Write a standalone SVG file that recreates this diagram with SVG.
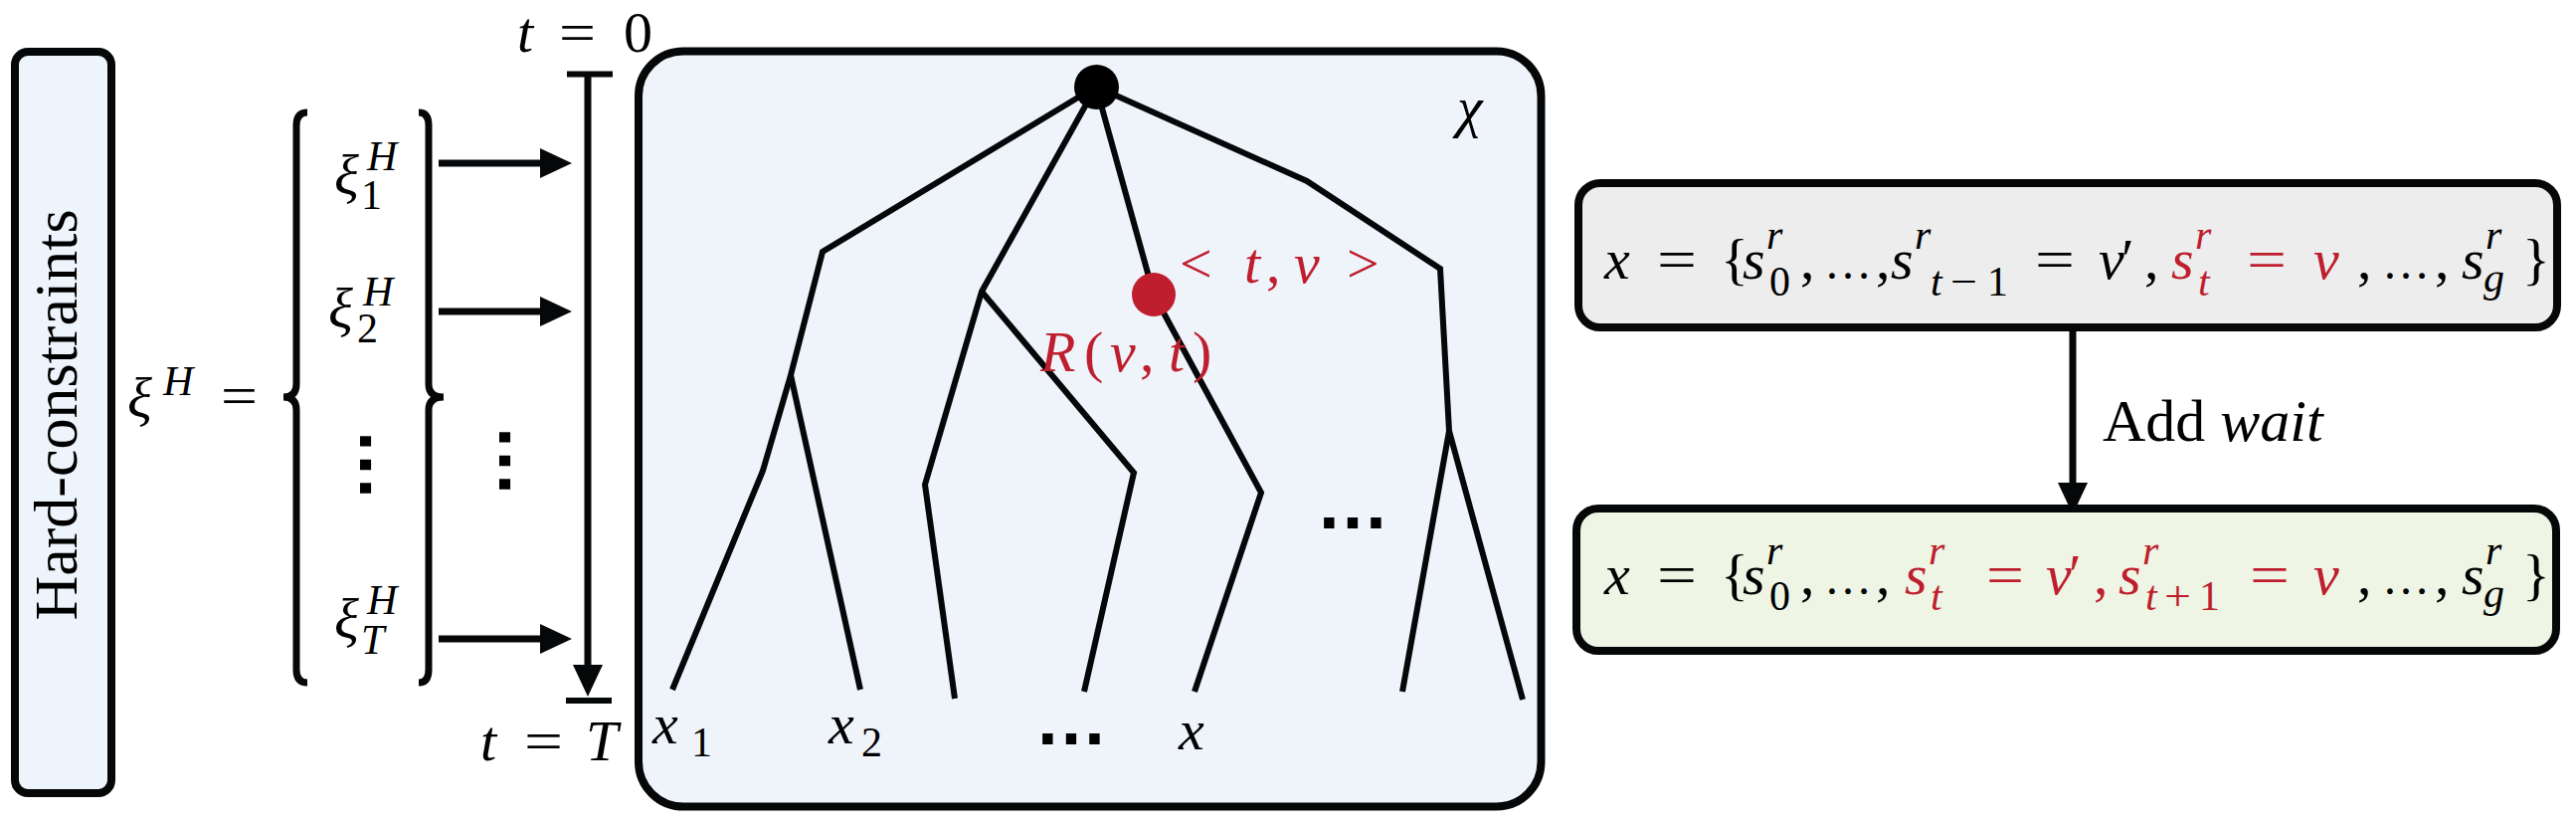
<svg xmlns="http://www.w3.org/2000/svg" width="2590" height="824" viewBox="0 0 2590 824">
<defs>
<style>
.box{stroke:#050708;stroke-width:8;}
.ln{fill:none;stroke:#050708;stroke-width:7;}
.tr{fill:none;stroke:#050708;stroke-width:6;stroke-linejoin:miter;}
.m{font-family:"Liberation Serif","Times New Roman",serif;font-size:58px;fill:#000;}
.s{font-size:42px;}
.i{font-style:italic;}
.red{fill:#BE1E2D;}
.el{font-size:48px;}
.dots{font-family:"Liberation Sans",Arial,sans-serif;font-weight:bold;font-size:74px;fill:#000;}
</style>
<marker id="ah" viewBox="0 0 32 30" refX="4" refY="15" markerWidth="32" markerHeight="30" markerUnits="userSpaceOnUse" orient="auto">
<path d="M0,0 L32,15 L0,30 z" fill="#050708"/>
</marker>
</defs>
<rect width="2590" height="824" fill="#fff"/>

<g id="hard-constraints">
<rect class="box" x="15" y="52" width="97" height="745" rx="13" fill="#EEF4FB"/>
<text class="m" style="font-size:62px" text-anchor="middle" transform="translate(77,417) rotate(-90)">Hard-constraints</text>
</g>

<g id="xi-set">
<text class="m"><tspan class="i" x="128" y="419">ξ</tspan><tspan class="i s" x="164" y="397">H</tspan><tspan x="222" y="417" textLength="37" lengthAdjust="spacingAndGlyphs">=</tspan></text>
<path class="ln" d="M309,113 Q298,113 298,126 L298,386 Q298,399 285,399 Q298,399 298,412 L298,673 Q298,686 309,686"/>
<path class="ln" d="M421,113 Q431,113 431,126 L431,386 Q431,399 446,399 Q431,399 431,412 L431,673 Q431,686 421,686"/>
<text class="m"><tspan class="i" x="336" y="195">ξ</tspan><tspan class="i s" x="369" y="171">H</tspan><tspan class="s" x="363" y="210">1</tspan></text>
<text class="m"><tspan class="i" x="330" y="329">ξ</tspan><tspan class="i s" x="365" y="307">H</tspan><tspan class="s" x="359" y="344">2</tspan></text>
<text class="dots" transform="translate(367,444) rotate(90)" x="-14" y="5">…</text>
<text class="m"><tspan class="i" x="336" y="641">ξ</tspan><tspan class="i s" x="369" y="617">H</tspan><tspan class="i s" x="363" y="657">T</tspan></text>
<text class="dots" transform="translate(507,440) rotate(90)" x="-14" y="5">…</text>
</g>

<g id="time-axis">
<text class="m"><tspan class="i" x="520" y="52">t</tspan><tspan x="562" y="52" textLength="37" lengthAdjust="spacingAndGlyphs">=</tspan><tspan x="627" y="52">0</tspan></text>
<line x1="570" y1="74.5" x2="616" y2="74.5" stroke="#050708" stroke-width="6"/>
<line x1="569" y1="704" x2="615" y2="704" stroke="#050708" stroke-width="6"/>
<text class="m"><tspan class="i" x="483" y="764">t</tspan><tspan x="527" y="764" textLength="39" lengthAdjust="spacingAndGlyphs">=</tspan><tspan class="i" x="589" y="764">T</tspan></text>
</g>

<g id="search-tree">
<rect class="box" x="642" y="51.5" width="907.5" height="759" rx="45" fill="#EFF4FB" stroke-width="9"/>
<text class="m i" x="1465" y="127">χ</text>
<path class="tr" d="M1102,87 L827,253 L795,377 L767,473 L676,693"/>
<path class="tr" d="M795,377 L865,693"/>
<path class="tr" d="M1102,87 L987,293 L930,487 L960,702"/>
<path class="tr" d="M987,293 L1140,475 L1090,695"/>
<path class="tr" d="M1102,87 L1160,296 L1268,495 L1201,695"/>
<path class="tr" d="M1102,87 L1314,182 L1448,270 L1457,433 L1410,695"/>
<path class="tr" d="M1457,433 L1531,703"/>
<circle cx="1102.5" cy="87.5" r="22.5" fill="#000"/>
<circle cx="1160" cy="296" r="22" fill="#BE1E2D"/>
<text class="m red"><tspan x="1186" y="284">&lt;</tspan><tspan class="i" x="1251" y="284">t</tspan><tspan x="1273" y="284">,</tspan><tspan class="i" x="1301" y="284">v</tspan><tspan x="1354" y="284">&gt;</tspan></text>
<text class="m red"><tspan class="i" x="1046" y="373">R</tspan><tspan x="1090" y="373">(</tspan><tspan class="i" x="1116" y="373">v</tspan><tspan x="1146" y="373">,</tspan><tspan class="i" x="1175" y="373">t</tspan><tspan x="1199" y="373">)</tspan></text>
<text class="dots" x="1323" y="531">…</text>
<text class="m"><tspan class="i" x="656" y="747">x</tspan><tspan class="s" x="695" y="760">1</tspan></text>
<text class="m"><tspan class="i" x="833" y="747">x</tspan><tspan class="s" x="866" y="760">2</tspan></text>
<text class="dots" x="1040" y="748">…</text>
<text class="m i" x="1185" y="753">x</text>
</g>

<g id="path-before">
<rect class="box" x="1587" y="184" width="984" height="145" rx="22" fill="#EDEDED" stroke-width="9"/>
<text class="m"><tspan class="i" x="1613" y="280">x</tspan><tspan x="1666" y="280" textLength="40" lengthAdjust="spacingAndGlyphs">=</tspan><tspan x="1730" y="280">{</tspan><tspan class="i" x="1752" y="280">s</tspan><tspan class="i s" x="1776" y="250">r</tspan><tspan class="s" x="1779" y="297">0</tspan><tspan x="1810" y="280">,</tspan><tspan class="el" x="1834" y="280">…</tspan><tspan x="1886" y="280">,</tspan><tspan class="i" x="1901" y="280">s</tspan><tspan class="i s" x="1925" y="250">r</tspan><tspan class="i s" x="1941" y="297">t</tspan><tspan class="s" x="1961" y="297" textLength="27" lengthAdjust="spacingAndGlyphs">−</tspan><tspan class="s" x="1998" y="297">1</tspan><tspan x="2046" y="280" textLength="40" lengthAdjust="spacingAndGlyphs">=</tspan><tspan class="i" x="2110" y="280">v</tspan><tspan x="2133" y="280">′</tspan><tspan x="2156" y="280">,</tspan><tspan class="i red" x="2183" y="280">s</tspan><tspan class="i s red" x="2207" y="250">r</tspan><tspan class="i s red" x="2210" y="297">t</tspan><tspan class="red" x="2259" y="280" textLength="40" lengthAdjust="spacingAndGlyphs">=</tspan><tspan class="i red" x="2326" y="280">v</tspan><tspan x="2370" y="280">,</tspan><tspan class="el" x="2395" y="280">…</tspan><tspan x="2448" y="280">,</tspan><tspan class="i" x="2475" y="280">s</tspan><tspan class="i s" x="2499" y="250">r</tspan><tspan class="i s" x="2497" y="293">g</tspan><tspan x="2536" y="280">}</tspan></text>
</g>

<g id="connectors">
<line class="ln" x1="441" y1="164" x2="547" y2="164" marker-end="url(#ah)"/>
<line class="ln" x1="441" y1="313" x2="547" y2="313" marker-end="url(#ah)"/>
<line class="ln" x1="441" y1="642" x2="547" y2="642" marker-end="url(#ah)"/>
<line class="ln" x1="591" y1="74" x2="591" y2="672" marker-end="url(#ah)"/>
<line class="ln" x1="2084" y1="329" x2="2084" y2="489" marker-end="url(#ah)"/>
<text class="m" style="font-size:60px" x="2114" y="443">Add <tspan font-style="italic">wait</tspan></text>
</g>

<g id="path-after">
<rect class="box" x="1585" y="511" width="985" height="143" rx="22" fill="#EEF5E5" stroke-width="9"/>
<text class="m"><tspan class="i" x="1613" y="597">x</tspan><tspan x="1666" y="597" textLength="40" lengthAdjust="spacingAndGlyphs">=</tspan><tspan x="1730" y="597">{</tspan><tspan class="i" x="1752" y="597">s</tspan><tspan class="i s" x="1776" y="567">r</tspan><tspan class="s" x="1779" y="613">0</tspan><tspan x="1810" y="597">,</tspan><tspan class="el" x="1834" y="597">…</tspan><tspan x="1886" y="597">,</tspan><tspan class="i red" x="1915" y="597">s</tspan><tspan class="i s red" x="1939" y="567">r</tspan><tspan class="i s red" x="1941" y="613">t</tspan><tspan class="red" x="1997" y="597" textLength="38" lengthAdjust="spacingAndGlyphs">=</tspan><tspan class="i red" x="2057" y="597">v</tspan><tspan class="red" x="2080" y="597">′</tspan><tspan class="red" x="2105" y="597">,</tspan><tspan class="i red" x="2130" y="597">s</tspan><tspan class="i s red" x="2154" y="567">r</tspan><tspan class="i s red" x="2157" y="613">t</tspan><tspan class="s red" x="2176" y="613" textLength="27" lengthAdjust="spacingAndGlyphs">+</tspan><tspan class="s red" x="2211" y="613">1</tspan><tspan class="red" x="2262" y="597" textLength="40" lengthAdjust="spacingAndGlyphs">=</tspan><tspan class="i red" x="2326" y="597">v</tspan><tspan x="2370" y="597">,</tspan><tspan class="el" x="2395" y="597">…</tspan><tspan x="2448" y="597">,</tspan><tspan class="i" x="2475" y="597">s</tspan><tspan class="i s" x="2499" y="567">r</tspan><tspan class="i s" x="2497" y="610">g</tspan><tspan x="2536" y="597">}</tspan></text>
</g>
</svg>
